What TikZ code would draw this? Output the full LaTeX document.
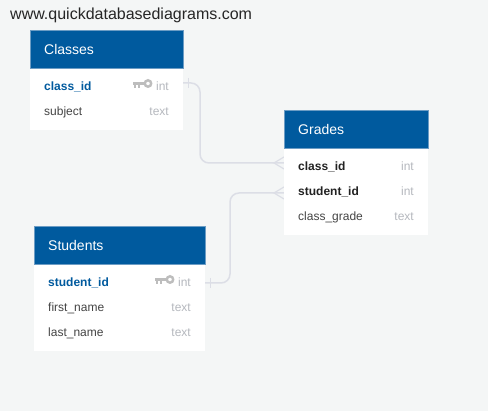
\documentclass[tikz,border=0pt]{standalone}
\usepackage{fontspec}
\setmainfont{Liberation Sans}
\definecolor{bgc}{HTML}{F4F6F6}
\definecolor{headc}{HTML}{005A9E}
\definecolor{edgec}{HTML}{6C9CC4}
\definecolor{linkc}{HTML}{DCDEE6}
\definecolor{typec}{HTML}{B5B8BE}
\definecolor{namec}{HTML}{444444}
\definecolor{fkc}{HTML}{222222}
\definecolor{keyc}{HTML}{BDBDBD}
\tikzset{
  x=1pt,y=-1pt,
  head/.style={fill=headc,draw=edgec,line width=.3pt,inner sep=0pt,outer sep=0pt,anchor=north west,minimum height=37.7pt,minimum width=#1},
  htext/.style={anchor=base west,inner sep=0pt,yshift=-0.8pt,text=white,font=\fontsize{14}{15}\selectfont},
  ftext/.style={anchor=base west,inner sep=0pt,yshift=-0.8pt,text=namec,font=\fontsize{12}{13}\selectfont},
  pk/.style={ftext,text=headc,font=\bfseries\fontsize{12}{13}\selectfont},
  fk/.style={ftext,text=fkc,font=\bfseries\fontsize{12}{13}\selectfont},
  ttext/.style={anchor=base east,inner sep=0pt,yshift=-0.8pt,text=typec,font=\fontsize{12}{13}\selectfont},
  linkline/.style={draw=linkc,line width=1.5pt,rounded corners=9pt},
  linkmark/.style={draw=linkc,line width=1.2pt},
}
\newcommand{\keyicon}[2]{%
  \draw[keyc,line width=2.4pt] (#1+15,#2) circle[radius=3.2];
  \draw[keyc,line width=2.8pt] (#1,#2) -- (#1+12,#2);
  \draw[keyc,line width=2pt] (#1+1.5,#2) -- (#1+1.5,#2+4.5) (#1+5.5,#2) -- (#1+5.5,#2+4.5);
}
\begin{document}
\begin{tikzpicture}
\useasboundingbox (0,0) rectangle (488,411);
\fill[bgc] (0,0) rectangle (488,411);
\node[anchor=base west,inner sep=0pt,text=black!85,font=\fontsize{16}{17}\selectfont] (title) at (10,20) {www.quickdatabasediagrams.com};

% connectors
\coordinate (c1a) at (183,83);
\coordinate (c1b) at (284,163);
\coordinate (c2a) at (205,283);
\coordinate (c2b) at (284,193);
\draw[linkline] (c1a) -| (200,163) -- (c1b);
\draw[linkline] (c2a) -| (230,193) -- (c2b);
\draw[linkmark] (c1a) ++(5.5,-5) -- ++(0,10);
\draw[linkmark] (c2a) ++(5.5,-5) -- ++(0,10);
\draw[linkmark] (c1b) ++(0,-6) -- ++(-10,6) -- ++(10,6);
\draw[linkmark] (c2b) ++(0,-6) -- ++(-10,6) -- ++(10,6);

% Classes
\fill[white] (30,68) rectangle (183,130);
\node[head=153pt] (classes) at (30,30) {};
\node[htext] (classesT) at (44,54) {Classes};
\node[pk] (c1) at (44,90) {class\_id};
\keyicon{133}{83.5}
\node[ttext] (c1t) at (169,90) {int};
\node[ftext] (c2) at (44,115) {subject};
\node[ttext] (c2t) at (169,115) {text};

% Grades
\fill[white] (284,148) rectangle (428,235);
\node[head=144pt] (grades) at (284,110) {};
\node[htext] (gradesT) at (298,134) {Grades};
\node[fk] (g1) at (298,170) {class\_id};
\node[ttext] (g1t) at (414,170) {int};
\node[fk] (g2) at (298,195) {student\_id};
\node[ttext] (g2t) at (414,195) {int};
\node[ftext] (g3) at (298,220) {class\_grade};
\node[ttext] (g3t) at (414,220) {text};

% Students
\fill[white] (34,264) rectangle (205,351);
\node[head=171.5pt] (students) at (34,226) {};
\node[htext] (studentsT) at (48,250) {Students};
\node[pk] (s1) at (48,286) {student\_id};
\keyicon{155}{279.5}
\node[ttext] (s1t) at (191,286) {int};
\node[ftext] (s2) at (48,311) {first\_name};
\node[ttext] (s2t) at (191,311) {text};
\node[ftext] (s3) at (48,336) {last\_name};
\node[ttext] (s3t) at (191,336) {text};
\end{tikzpicture}
\end{document}
